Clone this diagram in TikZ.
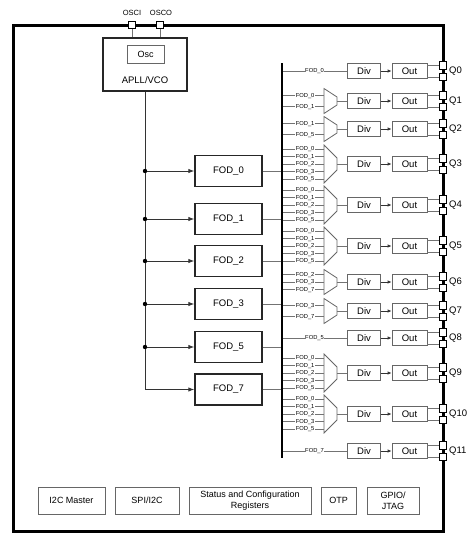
\documentclass[tikz,border=0pt]{standalone}
\usepackage{fontspec}
\setmainfont{Liberation Sans}
\usetikzlibrary{arrows.meta}
\begin{document}
\begin{tikzpicture}[x=1pt,y=-1pt,
  fodbox/.style={draw=black!85, line width=1.4pt, minimum width=67pt, minimum height=31pt, inner sep=0pt, font=\fontsize{9.5}{10}\selectfont},
  apllbox/.style={draw=black!85, line width=1.4pt, minimum width=84pt, minimum height=53pt, inner sep=0pt},
  blk/.style={draw=black!60, line width=0.8pt, minimum height=15pt, inner sep=0pt, font=\fontsize{9.5}{10}\selectfont},
  botbox/.style={draw=black!60, line width=0.8pt, minimum height=27pt, inner sep=0pt, align=center, font=\fontsize{9}{11}\selectfont},
  wire/.style={draw=black!55, line width=0.8pt},
  feed/.style={draw=black!80, line width=0.9pt},
  arr/.style={-{Latex[length=6pt,width=4.5pt]}},
  sarr/.style={-{Latex[length=4pt,width=3.5pt]}},
  pin/.style={draw=black, fill=white, line width=0.8pt, minimum size=7.5pt, inner sep=0pt},
  lab/.style={fill=white, inner sep=0.4pt, text height=4.2pt, text depth=0.9pt, font=\fontsize{5.8}{6}\selectfont},
  qlab/.style={anchor=west, inner sep=0pt, font=\fontsize{9.5}{10}\selectfont},
  pinlab/.style={inner sep=0pt, font=\fontsize{7.5}{8}\selectfont},
  muxs/.style={draw=black!60, line width=0.8pt, fill=white},
  busline/.style={draw=black, line width=2.8pt},
]
\useasboundingbox (0,0) rectangle (476,549);
\fill[white] (0,0) rectangle (476,549);

% chip outline
\draw[line width=3pt] (13,25) rectangle (443,531);

% oscillator
\node[apllbox] (apll) at (145,64.5) {};
\node[draw=black!60, line width=0.8pt, minimum width=37pt, minimum height=18pt, inner sep=0pt, font=\fontsize{9}{10}\selectfont] (osc) at (145.5,54) {Osc};
\node[inner sep=0pt, font=\fontsize{9.5}{10}\selectfont] (apllt) at (145,80) {APLL/VCO};
\node[pin] (osci) at (132,25) {};
\node[pin] (osco) at (160,25) {};
\node[pinlab] (losci) at (132,13) {OSCI};
\node[pinlab] (losco) at (161,13) {OSCO};
\draw[wire] (osci.south) -- (osci.south |- apll.north);
\draw[wire] (osco.south) -- (osco.south |- apll.north);

% FOD boxes
\node[fodbox] (fod0) at (228.5,171) {FOD\_0};
\node[fodbox] (fod1) at (228.5,219) {FOD\_1};
\node[fodbox] (fod2) at (228.5,261) {FOD\_2};
\node[fodbox] (fod3) at (228.5,304) {FOD\_3};
\node[fodbox] (fod5) at (228.5,347) {FOD\_5};
\node[fodbox] (fod7) at (228.5,389.5) {FOD\_7};

% trunk from APLL
\draw[feed, arr] (apll.south) |- (fod7.west);
\foreach \f in {0,1,2,3,5} {
  \draw[feed, arr] (fod\f.west -| apll.south) -- (fod\f.west);
  \fill (fod\f.west -| apll.south) circle (2.2pt);
}

% bus
\coordinate (busT) at (282,63);
\coordinate (busB) at (282,458);
\foreach \f in {0,1,2,3,5} {
  \draw[wire] (fod\f.east) -- (fod\f.east -| busT);
}
\draw[draw=black!55, line width=1.8pt] (fod7.east) -- (fod7.east -| busT);

% output rows: Div, Out, pins
\foreach \i/\c in {0/71,1/101,2/129,3/164,4/205,5/246,6/282,7/311,8/338,9/373,10/414,11/451} {
  \node[blk, minimum width=33pt] (div\i) at (364,\c) {Div};
  \node[blk, minimum width=35pt] (out\i) at (409.5,\c) {Out};
  \draw[feed, sarr] (div\i) -- (out\i);
  \node[pin] (pa\i) at (443,{\c-5.5}) {};
  \node[pin] (pb\i) at (443,{\c+6}) {};
  \draw[wire] (out\i.east |- pa\i) -- (pa\i.west);
  \draw[wire] (out\i.east |- pb\i) -- (pb\i.west);
  \node[qlab] (q\i) at (449,\c) {Q\i};
}

% single-source rows
\foreach \i/\l in {0/0, 8/5, 11/7} {
  \draw[wire] (div\i.west -| busT) -- (div\i.west) node[lab, pos=0.5] (sl\i) {FOD\_\l};
}

% 2-input muxes
\foreach \i/\c/\la/\lb in {1/101/0/1, 2/129/1/5, 7/311/3/7} {
  \draw[muxs] (324,{\c-12.5}) -- (337,{\c-4}) -- (337,{\c+4}) -- (324,{\c+12.5}) -- cycle;
  \coordinate (ia\i) at (324,{\c-5.5});
  \coordinate (ib\i) at (324,{\c+5.5});
  \draw[wire] (ia\i -| busT) -- (ia\i) node[lab, pos=0.55] (la\i) {FOD\_\la};
  \draw[wire] (ib\i -| busT) -- (ib\i) node[lab, pos=0.55] (lb\i) {FOD\_\lb};
  \coordinate (mo\i) at (337,\c);
  \draw[wire] (mo\i) -- (div\i.west);
}

% 3-input mux
\foreach \i/\c in {6/282} {
  \draw[muxs] (324,{\c-12.5}) -- (337,{\c-4}) -- (337,{\c+4}) -- (324,{\c+12.5}) -- cycle;
  \foreach \d/\l [count=\k] in {-7.5/2, 0/3, 7.5/7} {
    \coordinate (in\i-\k) at (324,{\c+\d});
    \draw[wire] (in\i-\k -| busT) -- (in\i-\k) node[lab, pos=0.55] (l\i-\k) {FOD\_\l};
  }
  \coordinate (mo\i) at (337,\c);
  \draw[wire] (mo\i) -- (div\i.west);
}

% 5-input muxes
\foreach \i/\c in {3/164, 4/205, 5/246, 9/373, 10/414} {
  \draw[muxs] (324,{\c-19}) -- (337,{\c-6}) -- (337,{\c+6}) -- (324,{\c+19}) -- cycle;
  \foreach \d/\l [count=\k] in {-15/0, -7.5/1, 0/2, 7.5/3, 15/5} {
    \coordinate (in\i-\k) at (324,{\c+\d});
    \draw[wire] (in\i-\k -| busT) -- (in\i-\k) node[lab, pos=0.55] (l\i-\k) {FOD\_\l};
  }
  \coordinate (mo\i) at (337,\c);
  \draw[wire] (mo\i) -- (div\i.west);
}

\draw[busline] (busT) -- (busB);

% bottom blocks
\node[botbox, minimum width=67pt] (i2cm) at (71.5,500.5) {I2C Master};
\node[botbox, minimum width=64pt] (spi) at (147,500.5) {SPI/I2C};
\node[botbox, minimum width=122pt] (stat) at (250,500.5) {Status and Configuration\\Registers};
\node[botbox, minimum width=35pt] (otp) at (338.5,500.5) {OTP};
\node[botbox, minimum width=52pt] (gpio) at (393,500.5) {GPIO/\\JTAG};
\end{tikzpicture}
\end{document}
